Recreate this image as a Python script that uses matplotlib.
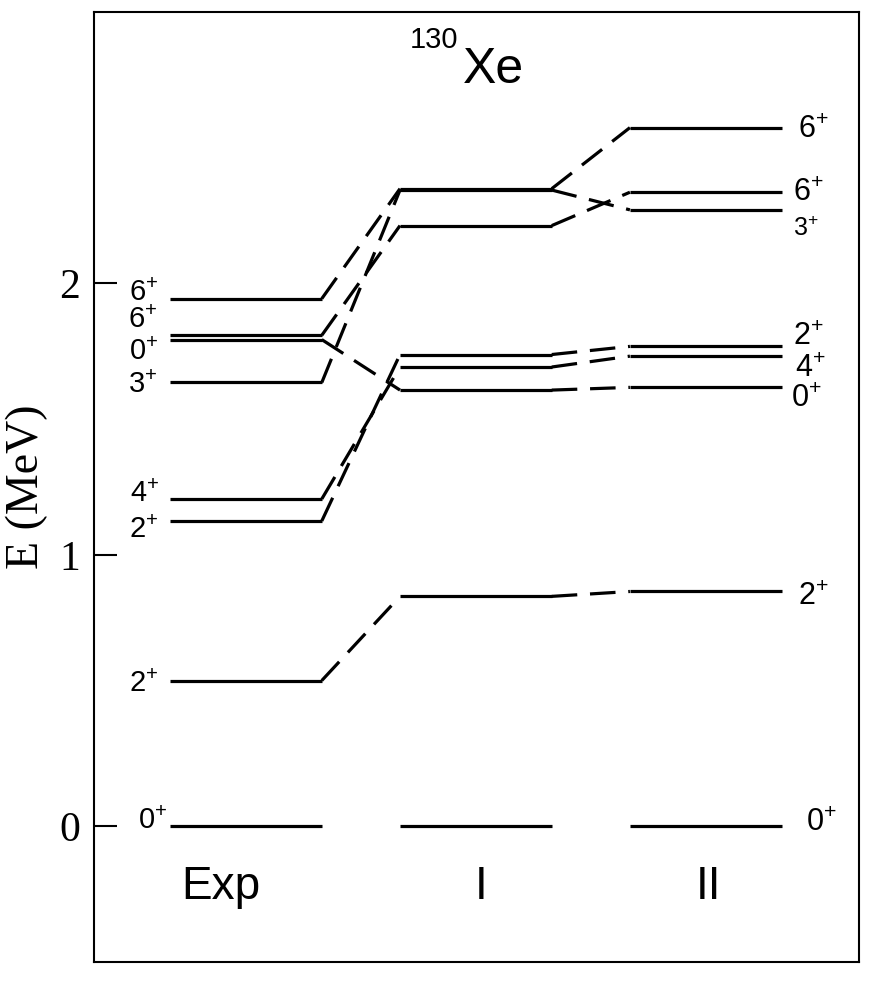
import matplotlib.pyplot as plt

plt.rcParams['mathtext.fontset'] = 'custom'
plt.rcParams['mathtext.rm'] = 'Liberation Sans'
plt.rcParams['mathtext.it'] = 'Liberation Sans'

# niveles de 130Xe (MeV), mismo orden de estados en cada columna
estados = ['0', '2', '2', '4', '3', '0', '6', '6']
e_exp = [0.0, 0.537, 1.125, 1.206, 1.635, 1.793, 1.809, 1.944]
e_I = [0.0, 0.847, 1.738, 1.692, 2.344, 1.607, 2.213, 2.349]
e_II = [0.0, 0.865, 1.768, 1.732, 2.271, 1.617, 2.336, 2.574]
columnas = ['Exp', 'I', 'II']

# posicion de las etiquetas (linea base) para que no se solapen
y_etq_exp = [-0.011, 0.493, 1.063, 1.195, 1.596, 1.717, 1.835, 1.935]
y_etq_II = [-0.018, 0.816, 1.772, 1.654, 2.176, 1.544, 2.305, 2.537]
x_etq_exp = [-0.47, -0.509, -0.509, -0.505, -0.513, -0.509, -0.513, -0.509]
x_etq_II = [2.435, 2.40, 2.38, 2.39, 2.38, 2.37, 2.38, 2.40]
tam_etq_II = [22, 22, 22, 22, 18, 22, 22, 22]

fig = plt.figure(figsize=(8.7, 9.84), dpi=100)
ax = fig.add_axes([0.108, 0.0224, 0.879, 0.9654])

ancho = 0.33
lw = 2.3
niveles = [e_exp, e_I, e_II]
for c, energias in enumerate(niveles):
    for e in energias:
        ax.plot([c - ancho, c + ancho], [e, e], color='black', lw=lw, solid_capstyle='butt')

# lineas de conexion discontinuas (sin el estado fundamental)
for c in range(2):
    izq = niveles[c]
    der = niveles[c + 1]
    for i in range(1, len(estados)):
        ax.plot([c + ancho, c + 1 - ancho], [izq[i], der[i]], color='black', lw=lw,
                linestyle=(0, (8, 4)), dash_capstyle='butt')

for i, j in enumerate(estados):
    ax.text(x_etq_exp[i], y_etq_exp[i], j + r'$^{+}$', fontsize=21, ha='left', va='baseline',
            family='Liberation Sans')
    ax.text(x_etq_II[i], y_etq_II[i], j + r'$^{+}$', fontsize=tam_etq_II[i], ha='left', va='baseline',
            family='Liberation Sans')

for c, nombre in enumerate(columnas):
    xc = [-0.109, 1.022, 2.013][c]
    ax.text(xc, -0.268, nombre, fontsize=33, ha='center', va='baseline', family='Liberation Sans')

ax.text(0.713, 2.868, '130', fontsize=21, ha='left', va='baseline', family='Liberation Sans')
ax.text(0.943, 2.739, 'Xe', fontsize=36, ha='left', va='baseline', family='Liberation Sans')

ax.set_xlim(-0.661, 2.665)
ax.set_ylim(-0.5, 3.0)
ax.set_xticks([])
ax.set_yticks([0, 1, 2])
ax.set_yticklabels(['0', '1', '2'], family='Liberation Serif', fontsize=30)
ax.tick_params(axis='y', direction='in', length=16.5, width=1.5, pad=10)
ax.set_ylabel('E (MeV)', family='Liberation Serif', fontsize=33, labelpad=8)
for s in ax.spines.values():
    s.set_linewidth(1.5)

plt.savefig('out.png', dpi=100)
